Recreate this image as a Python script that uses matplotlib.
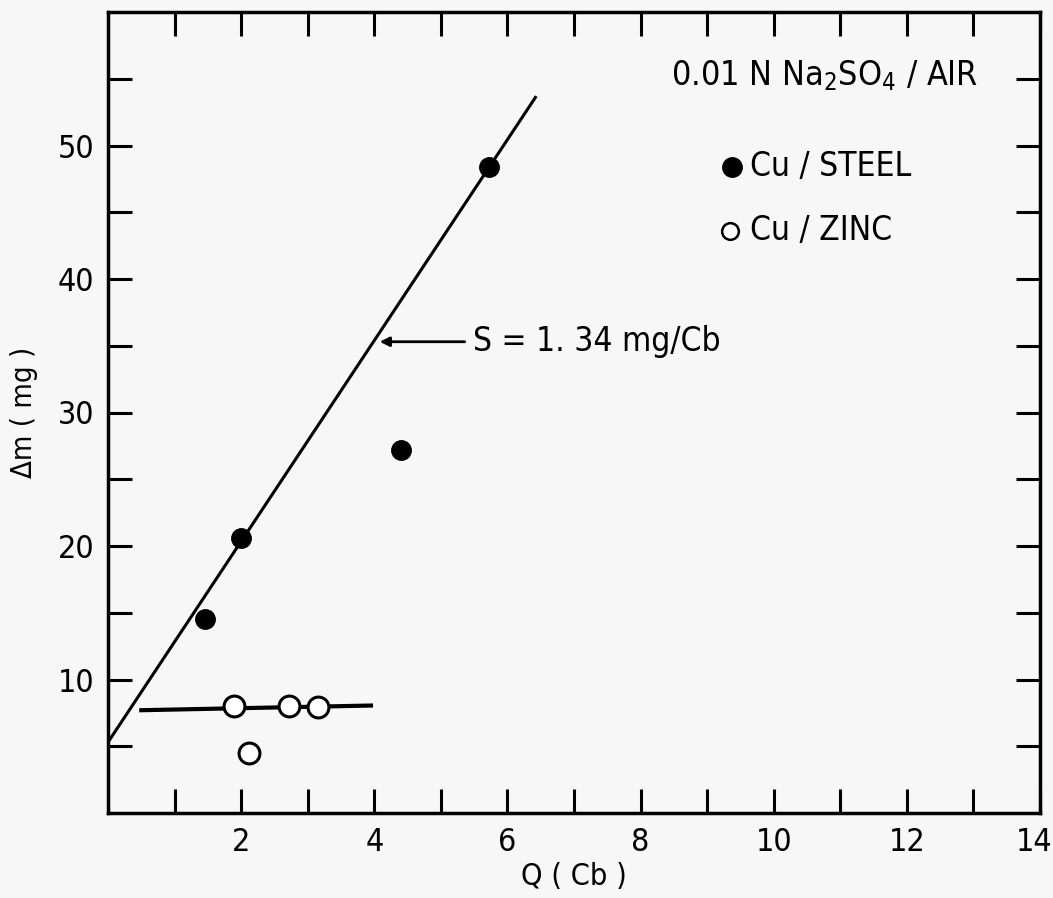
import numpy as np
import matplotlib
matplotlib.use("Agg")
import matplotlib.pyplot as plt
from matplotlib.transforms import ScaledTranslation

plt.rcParams['font.family'] = ['DejaVu Sans']
plt.rcParams['font.stretch'] = 'condensed'

# Cu / STEEL (filled)
steel_q = [1.45, 2.0, 4.4, 5.72]
steel_dm = [14.5, 20.6, 27.2, 48.4]

# Cu / ZINC (open)
zinc_q = [1.89, 2.72, 3.15, 2.12]
zinc_dm = [8.0, 8.0, 7.95, 4.5]

# hand-drawn lines
steel_line_q = [0.0, 6.42]
steel_line_dm = [5.3, 53.6]
zinc_line_q = [0.5, 3.95]
zinc_line_dm = [7.7, 8.05]

fig = plt.figure(figsize=(10.53, 8.98), dpi=100)
ax = fig.add_axes([108 / 1053, 1 - 813 / 898, (1040 - 108) / 1053, (813 - 12) / 898])

ax.plot(steel_line_q, steel_line_dm, color='black', lw=2.2, zorder=2)
ax.plot(zinc_line_q, zinc_line_dm, color='black', lw=3.0, zorder=2)

ax.plot(steel_q, steel_dm, 'o', color='black', markersize=14, zorder=3)
ax.plot(zinc_q, zinc_dm, 'o', markerfacecolor='white', markeredgecolor='black',
        markeredgewidth=2.2, markersize=15, zorder=3)

ax.set_xlim(0, 14)
ax.set_ylim(0, 60)
ax.set_xticks(np.arange(1, 15, 1))
ax.set_xticklabels(['' if v % 2 else str(v) for v in range(1, 15)])
ax.set_yticks(np.arange(5, 60, 5))
ax.set_yticklabels([str(v) if v % 10 == 0 and v > 0 else '' for v in range(5, 60, 5)])
ax.tick_params(direction='in', length=17, width=2.2, labelsize=23,
               top=True, right=True, pad=10)

# last x label sits on the right edge, nudge it in a little
last = ax.get_xticklabels()[-1]
last.set_transform(last.get_transform() + ScaledTranslation(-6 / 100, 0, fig.dpi_scale_trans))

for s in ax.spines.values():
    s.set_linewidth(2.5)

ax.set_xlabel('Q ( Cb )', fontsize=22, labelpad=3)
ax.set_ylabel('\u0394m ( mg )', fontsize=21, labelpad=14)

# annotations
ax.text(8.45, 55.2, r'0.01 N Na$_2$SO$_4$ / AIR', fontsize=24.5, va='center', ha='left')
ax.plot([9.37], [48.4], 'o', color='black', markersize=14)
ax.text(9.64, 48.4, 'Cu / STEEL', fontsize=24, va='center', ha='left')
ax.plot([9.34], [43.6], 'o', markerfacecolor='white', markeredgecolor='black',
        markeredgewidth=1.8, markersize=12)
ax.text(9.64, 43.6, 'Cu / ZINC', fontsize=24, va='center', ha='left')

ax.annotate('', xy=(4.04, 35.3), xytext=(5.4, 35.3),
            arrowprops=dict(arrowstyle='-|>', color='black', lw=2, mutation_scale=14))
ax.text(5.48, 35.3, 'S = 1. 34 mg/Cb', fontsize=24, va='center', ha='left')

fig.patch.set_facecolor('#f7f7f7')
ax.set_facecolor('#f7f7f7')
fig.savefig('out.png', dpi=100, facecolor=fig.get_facecolor())
